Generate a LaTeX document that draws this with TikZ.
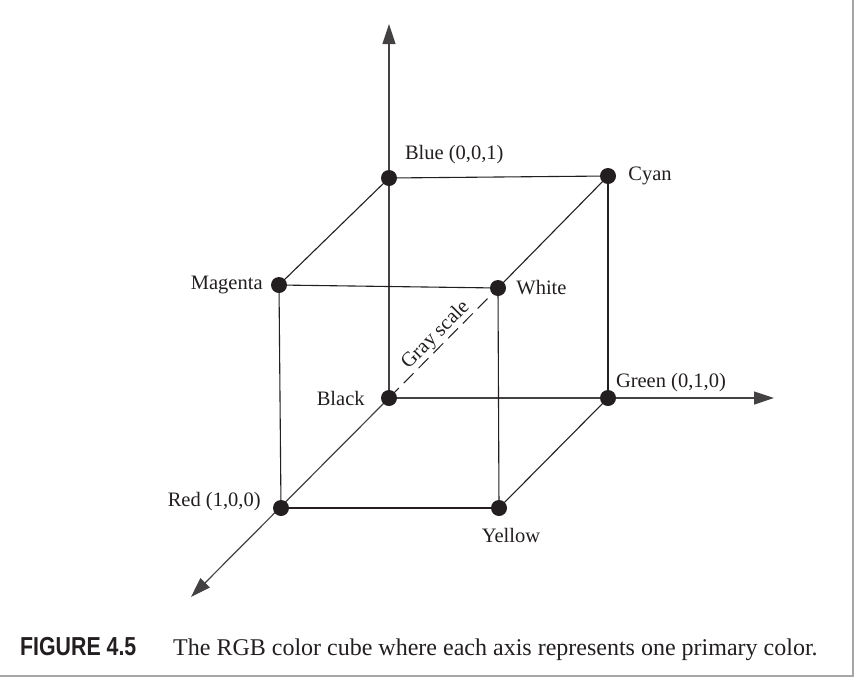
\documentclass[tikz,border=0pt]{standalone}
\usepackage{fontspec}
\setmainfont{Liberation Serif}
\newfontfamily\capfont[FakeStretch=0.82]{Liberation Sans}
\usetikzlibrary{arrows.meta,positioning}
\definecolor{ink}{HTML}{231F20}
\tikzset{
  dot/.style={circle, fill=ink, inner sep=0pt, minimum size=16pt},
  edge/.style={ink, line width=1.1pt},
  axis/.style={ink!85, line width=1.2pt, -{Triangle[length=20pt,width=13pt]}},
  lbl/.style={font=\fontsize{20.5}{24}\selectfont, text=ink, inner sep=2pt}
}
\begin{document}
\begin{tikzpicture}[x=1pt, y=-1pt]
        \useasboundingbox (0,0) rectangle (855,678);
        \fill[white] (0,0) rectangle (855,678);
        % frame shadow
        \draw[gray!70, line width=2pt] (853,0) -- (853,676) -- (0,676);

        % cube corners
        \coordinate (pblack) at (389,398);
        \coordinate (pblue) at (389,178);
        \coordinate (pcyan) at (608,176);
        \coordinate (pgreen) at (608,398);
        \coordinate (pmagenta) at (279,285);
        \coordinate (pwhite) at (498,288);
        \coordinate (pred) at (281,508);
        \coordinate (pyellow) at (499,508);

        % axis tips
        \coordinate (btip) at (389,24);
        \coordinate (gtip) at (774,398);
        \coordinate (rtip) at (191,597);

        % axes
        \draw[axis] (pblack) -- (btip);
        \draw[axis] (pblack) -- (gtip);
        \draw[axis] (pblack) -- (rtip);

        % cube edges
        \draw[edge] (pblue) -- (pcyan);
        \draw[edge] (pblue) -- (pmagenta);
        \draw[edge] (pmagenta) -- (pwhite);
        \draw[edge] (pmagenta) -- (pred);
        \draw[edge] (pcyan) -- (pwhite);
        \draw[edge] (pcyan) -- (pgreen);
        \draw[edge] (pwhite) -- (pyellow);
        \draw[edge] (pred) -- (pyellow);
        \draw[edge] (pyellow) -- (pgreen);

        % gray scale diagonal
        \draw[ink, line width=1pt, dash pattern=on 14pt off 7pt] (pblack) -- (pwhite)
            node[lbl, pos=0.5, sloped, above=1pt, inner sep=0pt] (gray) {Gray scale};

        % corner dots
        \node[dot] (black) at (pblack) {};
        \node[dot] (blue) at (pblue) {};
        \node[dot] (cyan) at (pcyan) {};
        \node[dot] (green) at (pgreen) {};
        \node[dot] (magenta) at (pmagenta) {};
        \node[dot] (white) at (pwhite) {};
        \node[dot] (red) at (pred) {};
        \node[dot] (yellow) at (pyellow) {};

        % labels
        \node[lbl, above right=6pt and 8pt of blue] (bluelbl) {Blue (0,0,1)};
        \node[lbl, right=10pt of cyan] (cyanlbl) {Cyan};
        \node[lbl, left=6pt of magenta] (magentalbl) {Magenta};
        \node[lbl, right=8pt of white] (whitelbl) {White};
        \node[lbl, left=14pt of black] (blacklbl) {Black};
        \node[lbl, above right=0pt and 0pt of green, yshift=-2pt] (greenlbl) {Green (0,1,0)};
        \node[lbl, left=10pt of red, yshift=6pt] (redlbl) {Red (1,0,0)};
        \node[lbl, below=10pt of yellow, xshift=12pt] (yellowlbl) {Yellow};

        % caption
        \node[anchor=base west, inner sep=0pt, text=ink, font=\capfont\bfseries\fontsize{26}{30}\selectfont] (fig) at (20,655) {FIGURE 4.5};
        \node[anchor=base west, inner sep=0pt, text=ink, font=\fontsize{24}{28}\selectfont] (cap) at (173,655) {The RGB color cube where each axis represents one primary color.};
\end{tikzpicture}
\end{document}
